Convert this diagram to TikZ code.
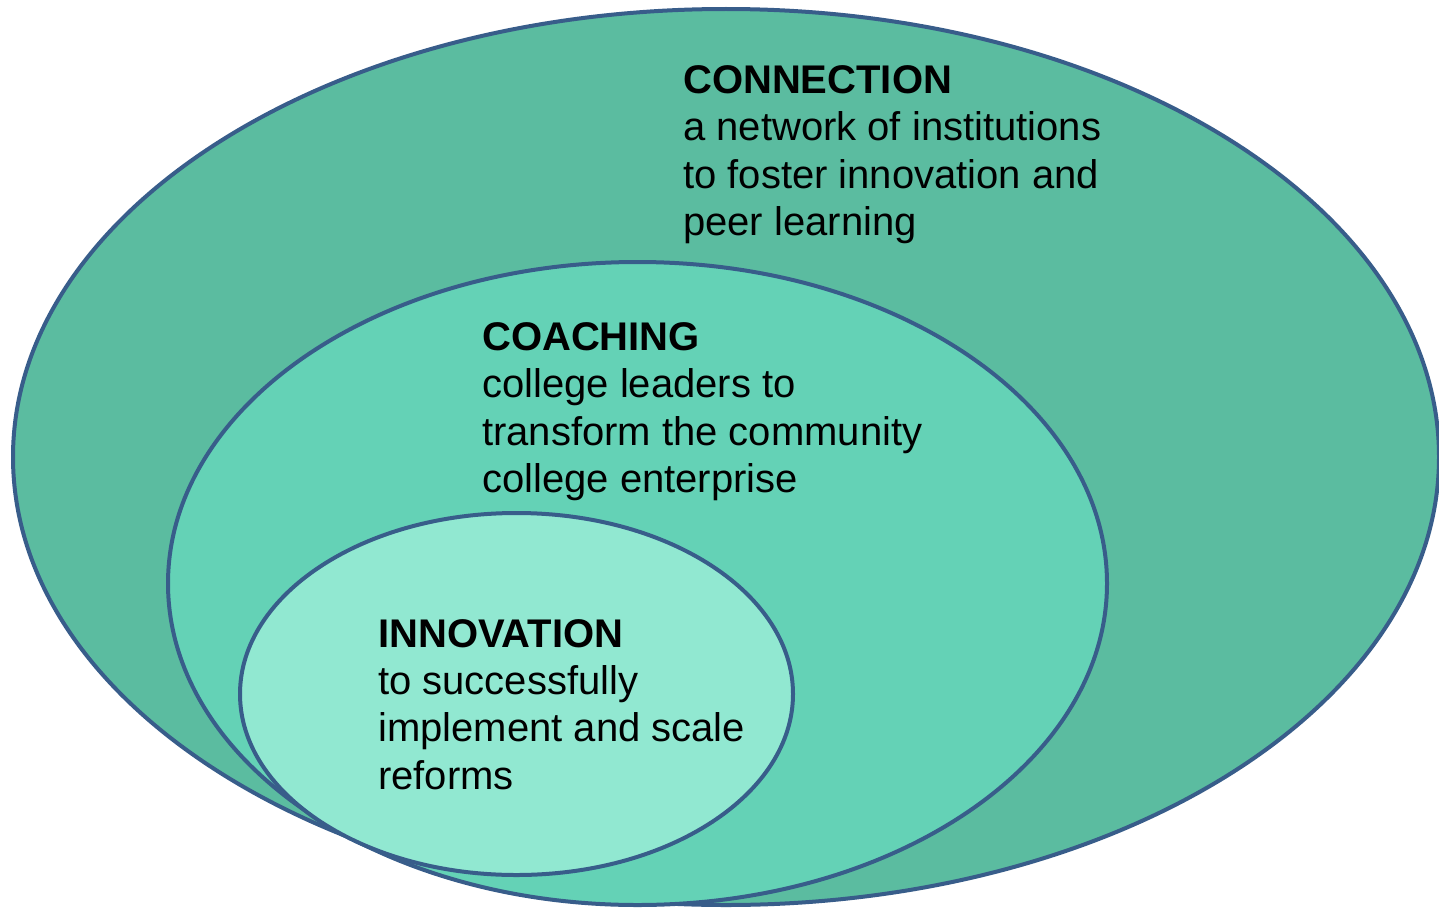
\documentclass[tikz,border=0pt]{standalone}
\usepackage{fontspec}
\setmainfont{Liberation Sans}
\definecolor{outerfill}{HTML}{5BBCA0}
\definecolor{midfill}{HTML}{64D2B6}
\definecolor{innerfill}{HTML}{91E8D1}
\definecolor{rim}{HTML}{385D8A}
\begin{document}
\begin{tikzpicture}[x=1pt,y=-1pt,
  ring/.style={draw=rim,line width=4pt},
  txt/.style={anchor=base west,inner sep=0pt,font=\fontsize{40}{48}\selectfont},
  head/.style={txt,font=\fontsize{40}{48}\selectfont\bfseries}]
\useasboundingbox (0,0) rectangle (1439,907);
\fill[white] (0,0) rectangle (1439,907);
\draw[ring,fill=outerfill] (726,457) ellipse [x radius=713, y radius=448];
\draw[ring,fill=midfill] (637.5,583.5) ellipse [x radius=469.5, y radius=321.5];
\draw[ring,fill=innerfill] (516.5,694) ellipse [x radius=276.5, y radius=181];
\node[head] (c0) at (683,93) {CONNECTION};
\node[txt] (c1) at (683,140.5) {a network of institutions};
\node[txt] (c2) at (683,188) {to foster innovation and};
\node[txt] (c3) at (683,235.5) {peer learning};
\node[head] (k0) at (482,350) {COACHING};
\node[txt] (k1) at (482,397.5) {college leaders to};
\node[txt] (k2) at (482,445) {transform the community};
\node[txt] (k3) at (482,492.5) {college enterprise};
\node[head] (i0) at (378,647) {INNOVATION};
\node[txt] (i1) at (378,694.3) {to successfully};
\node[txt] (i2) at (378,741.7) {implement and scale};
\node[txt] (i3) at (378,789) {reforms};
\end{tikzpicture}
\end{document}
